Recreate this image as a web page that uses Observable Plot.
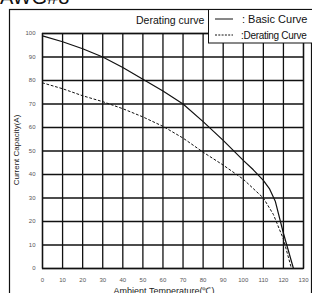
<!DOCTYPE html>
<html><head><meta charset="utf-8">
<script src="https://cdn.jsdelivr.net/npm/d3@7"></script>
<script src="https://cdn.jsdelivr.net/npm/@observablehq/plot@0.6"></script>
<style>body{margin:0;background:#fff;} svg{display:block;}</style>
</head><body><div id="c"></div>
<script>
const basicT = [0,10,20,30,40,50,60,70,80,90,100,105,110,113,116,120,125];
const basicA = [99,96.5,93.5,90,85.5,80.5,75.5,70,62.5,54.5,46,42,37.5,34,28.5,15,0];
const deratT = [0,10,20,30,40,50,60,70,80,90,100,110,115,120,124];
const deratA = [79,76.5,73.5,71,68,64.5,60.5,55.5,49.5,44,38,30,23,12.5,0];
const xTicks = [0,10,20,30,40,50,60,70,80,90,100,110,120,130];
const yTicks = [0,10,20,30,40,50,60,70,80,90,100];

const basic = basicT.map((t,i)=>({t, a: basicA[i]}));
const derat = deratT.map((t,i)=>({t, a: deratA[i]}));
const W = 312, H = 293;
const font = "Liberation Sans, Arial, sans-serif";

const chart = Plot.plot({
  width: W, height: H,
  marginLeft: 42, marginRight: 9, marginTop: 33, marginBottom: 25,
  style: {fontFamily: font, background: "#fff", overflow: "visible"},
  x: {domain: [0,130], ticks: xTicks, label: null},
  y: {domain: [0,100], ticks: yTicks, label: null},
  marks: [
    Plot.gridX(xTicks, {stroke: "#111", strokeOpacity: 1, strokeWidth: 1.3}),
    Plot.gridY(yTicks, {stroke: "#111", strokeOpacity: 1, strokeWidth: 1.3}),
    Plot.frame({stroke: "#111", strokeWidth: 1.3}),
    Plot.axisX(xTicks, {tickSize: 0, tickPadding: 9, fontSize: 6, fill: "#555", style: {letterSpacing: "1px"}}),
    Plot.axisY(yTicks, {tickSize: 0, tickPadding: 7, fontSize: 6, fill: "#555", style: {letterSpacing: "1px"}}),
    Plot.line(derat, {x: "t", y: "a", stroke: "#111", strokeWidth: 1, strokeDasharray: "2,2.5", curve: "linear"}),
    Plot.line(basic, {x: "t", y: "a", stroke: "#111", strokeWidth: 1.2, curve: "linear"})
  ]
});
document.getElementById("c").appendChild(chart);

const svg = d3.select(chart);
svg.append("rect").attr("x",9.5).attr("y",9.5).attr("width",302).attr("height",300)
  .attr("fill","none").attr("stroke","#111").attr("stroke-width",1.2);
svg.append("text").attr("x",0).attr("y",4).attr("font-size",20).attr("font-family",font)
  .attr("text-anchor","start").attr("fill","#111").text("AWG#8");
svg.append("text").attr("x",136).attr("y",24).attr("font-size",10.5).attr("font-family",font)
  .attr("text-anchor","start").attr("fill","#111").text("Derating curve");
// legend
const lg = svg.append("g");
lg.append("rect").attr("x",208.5).attr("y",9.5).attr("width",110).attr("height",33.5)
  .attr("fill","#fff").attr("stroke","#111").attr("stroke-width",1);
lg.append("line").attr("x1",215).attr("x2",233).attr("y1",19).attr("y2",19).attr("stroke","#111").attr("stroke-width",1);
lg.append("line").attr("x1",215).attr("x2",233).attr("y1",35).attr("y2",35).attr("stroke","#111").attr("stroke-width",1).attr("stroke-dasharray","2,1.3");
lg.append("text").attr("x",242).attr("y",23).attr("font-size",11).attr("font-family",font).attr("text-anchor","start").attr("fill","#111").text(": Basic Curve");
lg.append("text").attr("x",241).attr("y",39).attr("font-size",10).attr("font-family",font).attr("text-anchor","start").attr("fill","#111").attr("letter-spacing","-0.3").text(":Derating Curve");
// axis labels
svg.append("text").attr("transform","translate(19,150) rotate(-90)").attr("text-anchor","middle")
  .attr("font-size",8).attr("font-family",font).attr("fill","#222").text("Current Capacity(A)");
svg.append("text").attr("x",164).attr("y",294).attr("text-anchor","middle")
  .attr("font-size",9).attr("font-family",font).attr("fill","#222").text("Ambient Temperature(℃)");
</script></body></html>
